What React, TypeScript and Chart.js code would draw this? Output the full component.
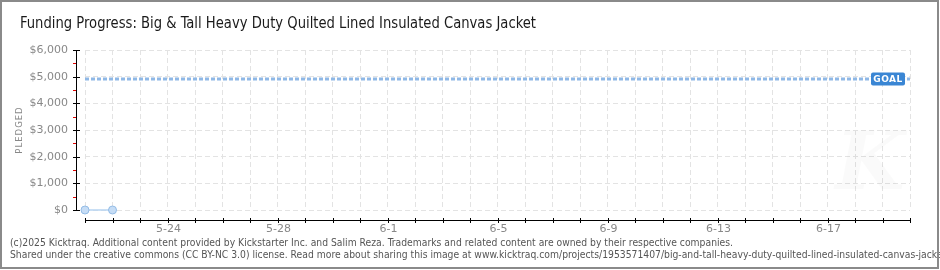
import React, { useEffect, useRef } from "react";
import { Chart, registerables } from "chart.js";

Chart.register(...registerables);

const TITLE = "Funding Progress: Big & Tall Heavy Duty Quilted Lined Insulated Canvas Jacket";
const FOOTER_1 =
  "(c)2025 Kicktraq. Additional content provided by Kickstarter Inc. and Salim Reza. Trademarks and related content are owned by their respective companies.";
const FOOTER_2 =
  "Shared under the creative commons (CC BY-NC 3.0) license. Read more about sharing this image at www.kicktraq.com/projects/1953571407/big-and-tall-heavy-duty-quilted-lined-insulated-canvas-jacket/";

const dates = [
  "5-21", "5-22", "5-23", "5-24", "5-25", "5-26", "5-27", "5-28", "5-29", "5-30", "5-31",
  "6-1", "6-2", "6-3", "6-4", "6-5", "6-6", "6-7", "6-8", "6-9", "6-10", "6-11",
  "6-12", "6-13", "6-14", "6-15", "6-16", "6-17", "6-18", "6-19", "6-20",
];
const shownDateLabels = ["5-24", "5-28", "6-1", "6-5", "6-9", "6-13", "6-17"];
const pledged = [0, 0];
const GOAL = 4915;
const yTicks = [0, 1000, 2000, 3000, 4000, 5000, 6000];
const yMinorTicks = [500, 1500, 2500, 3500, 4500, 5500];

const fmt = (v: number) => "$" + v.toLocaleString("en-US");

function fitText(ctx: CanvasRenderingContext2D, text: string, x: number, y: number, targetWidth: number, refText?: string) {
  const w = ctx.measureText(refText ?? text).width;
  const s = targetWidth / w;
  ctx.save();
  ctx.translate(x, y);
  ctx.scale(s, 1);
  ctx.fillText(text, 0, 0);
  ctx.restore();
}

const overlay = {
  id: "kicktraqOverlay",
  beforeDatasetsDraw(chart: any) {
    const { ctx, chartArea } = chart;
    ctx.save();
    ctx.fillStyle = "rgba(0,0,0,0.018)";
    ctx.font = "italic bold 80px 'DejaVu Serif'";
    ctx.textAlign = "center";
    ctx.textBaseline = "middle";
    ctx.fillText("K", chartArea.right - 40, 168);
    ctx.restore();
  },
  afterDraw(chart: any) {
    const { ctx, chartArea, scales } = chart;
    const xs = scales.x;
    const ys = scales.y;
    ctx.save();

    // Title
    ctx.fillStyle = "#1a1a1a";
    ctx.font = "16px 'DejaVu Sans Condensed', 'DejaVu Sans'";
    ctx.textAlign = "left";
    ctx.textBaseline = "middle";
    fitText(ctx, TITLE, 20, 24, 516);

    // Y axis
    const axX = chartArea.left - 9;
    ctx.strokeStyle = "#000";
    ctx.lineWidth = 1;
    ctx.beginPath();
    ctx.moveTo(axX + 0.5, ys.getPixelForValue(6000));
    ctx.lineTo(axX + 0.5, ys.getPixelForValue(0) + 1);
    ctx.stroke();
    ctx.font = "11px 'DejaVu Sans'";
    ctx.textAlign = "right";
    ctx.textBaseline = "middle";
    yTicks.forEach((v) => {
      const y = Math.round(ys.getPixelForValue(v)) + 0.5;
      ctx.strokeStyle = "#000";
      ctx.beginPath();
      ctx.moveTo(axX - 3, y);
      ctx.lineTo(axX + 4, y);
      ctx.stroke();
      ctx.fillStyle = "#888";
      ctx.fillText(fmt(v), axX - 8, y);
    });
    yMinorTicks.forEach((v) => {
      const y = Math.round(ys.getPixelForValue(v)) + 0.5;
      ctx.strokeStyle = "#e00000";
      ctx.beginPath();
      ctx.moveTo(axX - 3, y);
      ctx.lineTo(axX, y);
      ctx.stroke();
    });

    // Y title
    ctx.save();
    ctx.translate(20, 130);
    ctx.rotate(-Math.PI / 2);
    ctx.fillStyle = "#888";
    ctx.font = "8.5px 'DejaVu Sans'";
    ctx.textAlign = "center";
    ctx.textBaseline = "middle";
    (ctx as any).letterSpacing = "1px";
    ctx.fillText("PLEDGED", 0, 0);
    ctx.restore();

    // X axis
    const axY = chartArea.bottom + 10;
    ctx.strokeStyle = "#000";
    ctx.beginPath();
    ctx.moveTo(xs.getPixelForValue(0), axY + 0.5);
    ctx.lineTo(xs.getPixelForValue(dates.length - 1) + 1, axY + 0.5);
    ctx.stroke();
    ctx.fillStyle = "#888";
    ctx.font = "11px 'DejaVu Sans'";
    ctx.textAlign = "center";
    ctx.textBaseline = "middle";
    dates.forEach((d, i) => {
      const x = Math.round(xs.getPixelForValue(i)) + 0.5;
      ctx.beginPath();
      ctx.moveTo(x, axY - 2);
      ctx.lineTo(x, axY + 3);
      ctx.stroke();
      if (shownDateLabels.includes(d)) ctx.fillText(d, x, axY + 9);
    });

    // Goal label
    const gy = ys.getPixelForValue(GOAL);
    const bx = chartArea.right - 39;
    ctx.fillStyle = "#3a86d4";
    ctx.beginPath();
    (ctx as any).roundRect(bx, gy - 6.5, 34, 13, 2);
    ctx.fill();
    ctx.fillStyle = "#fff";
    ctx.font = "bold 9px 'DejaVu Sans'";
    ctx.textAlign = "center";
    (ctx as any).letterSpacing = "0.5px";
    ctx.fillText("GOAL", bx + 17, gy + 0.5);
    (ctx as any).letterSpacing = "0px";

    // Footer
    ctx.fillStyle = "#555";
    ctx.font = "10px 'DejaVu Sans Condensed', 'DejaVu Sans'";
    ctx.textAlign = "left";
    const w1 = ctx.measureText(FOOTER_1).width;
    const s = 723 / w1;
    ctx.save();
    ctx.translate(10, 0);
    ctx.scale(s, 1);
    ctx.fillText(FOOTER_1, 0, 243);
    ctx.fillText(FOOTER_2, 0, 255);
    ctx.restore();

    // Frame
    ctx.strokeStyle = "#8a8a8a";
    ctx.lineWidth = 2;
    ctx.strokeRect(1, 1, 937, 267);
    ctx.restore();
  },
};

export default function App() {
  const ref = useRef<HTMLCanvasElement>(null);
  useEffect(() => {
    document.body.style.margin = "0";
    const chart = new Chart(ref.current!, {
      type: "line",
      data: {
        labels: dates,
        datasets: [
          {
            label: "Pledged",
            data: pledged,
            borderColor: "#b7d4f2",
            borderWidth: 1.5,
            pointRadius: 4,
            pointBackgroundColor: "#c6ddf6",
            pointBorderColor: "#94bce6",
            pointBorderWidth: 1,
            clip: false as any,
            order: 1,
          },
          {
            label: "Goal",
            data: dates.map(() => GOAL),
            borderColor: "#8fb8e6",
            borderWidth: 3,
            borderDash: [4, 2],
            pointRadius: 0,
            order: 2,
          },
        ],
      },
      options: {
        animation: false,
        responsive: false,
        events: [],
        layout: { padding: { left: 85, right: 30, top: 50, bottom: 60 } },
        plugins: { legend: { display: false }, tooltip: { enabled: false }, title: { display: false } },
        scales: {
          x: {
            type: "category",
            offset: false,
            grid: { color: "#e3e3e3", drawTicks: false },
            border: { display: false, dash: [5, 3] },
            ticks: { display: false },
          },
          y: {
            min: 0,
            max: 6000,
            grid: { color: "#e3e3e3", drawTicks: false },
            border: { display: false, dash: [5, 3] },
            ticks: { display: false, stepSize: 1000 },
          },
        },
      },
      plugins: [overlay],
    });
    return () => chart.destroy();
  }, []);
  return (
    <div style={{ width: 940, height: 270, background: "#fff" }}>
      <canvas ref={ref} width={940} height={270} style={{ display: "block" }} />
    </div>
  );
}
